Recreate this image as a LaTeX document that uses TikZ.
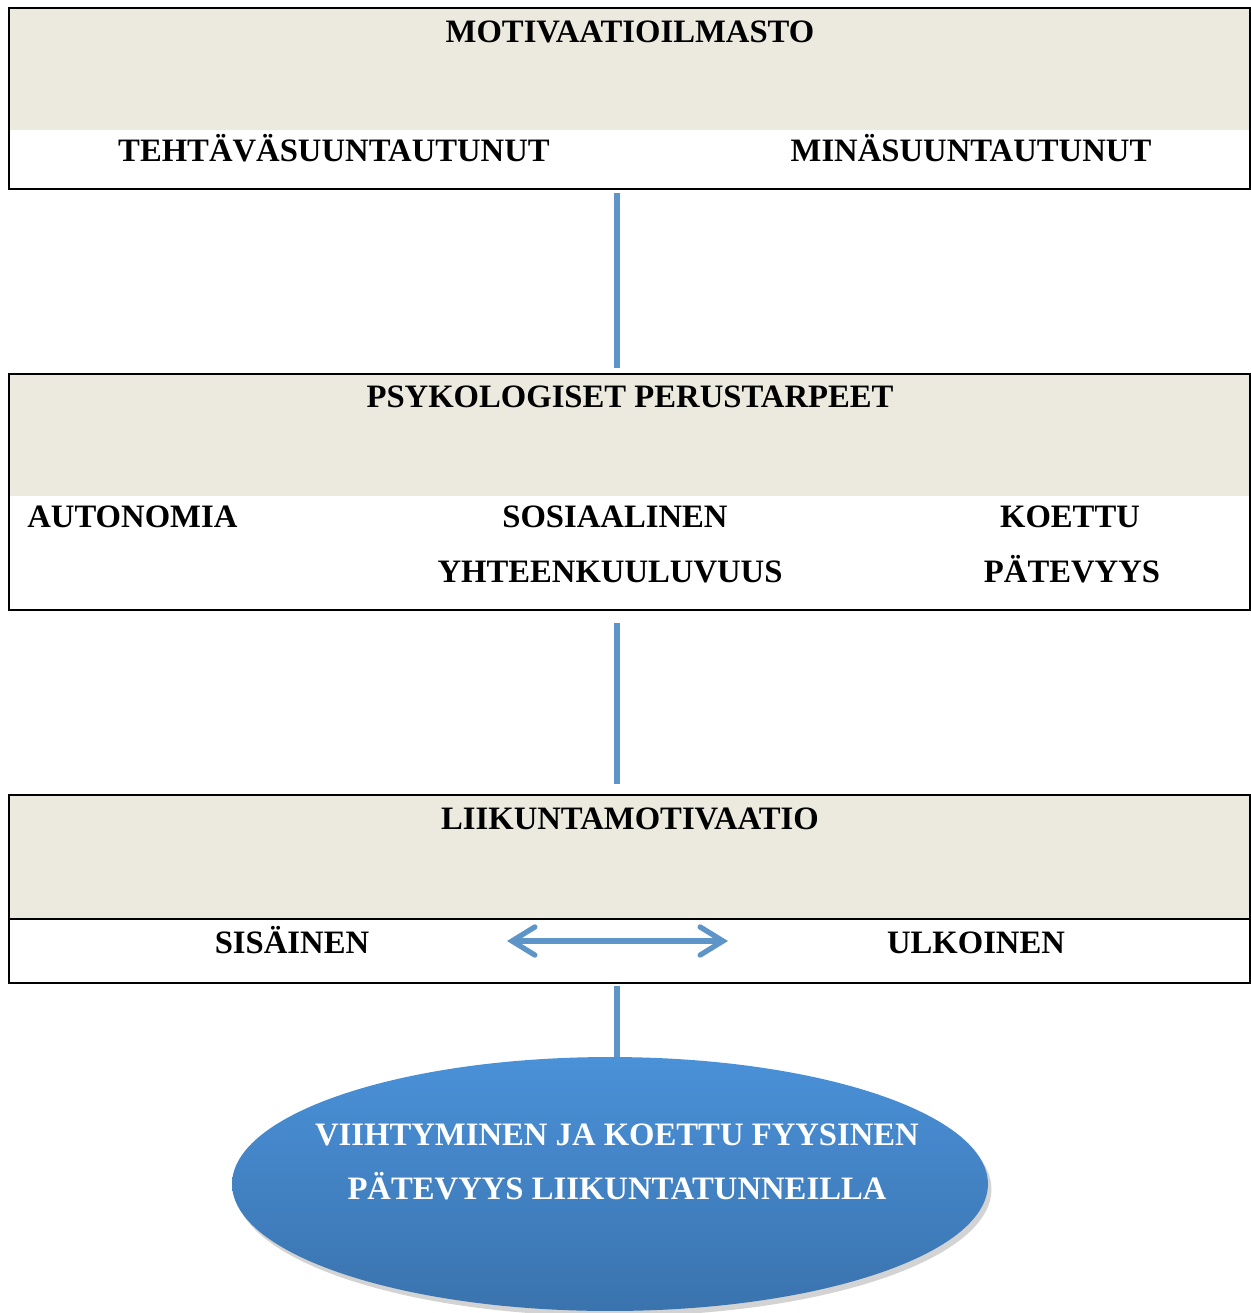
\documentclass[tikz,border=0pt]{standalone}
\usepackage{fontspec}
\setmainfont{Liberation Serif}
\usepackage{xcolor}
\definecolor{bandBeige}{HTML}{ECEADF}
\definecolor{linkBlue}{HTML}{5E95C9}
\definecolor{ellTop}{HTML}{4A91D8}
\definecolor{ellBottom}{HTML}{3A73AE}
\usetikzlibrary{shapes.geometric, shadows, arrows.meta, positioning, calc}

\begin{document}
\begin{tikzpicture}[
    x=0.02cm, y=-0.02cm,
    font=\bfseries\fontsize{18.6}{22}\selectfont,
    boxFrame/.style={draw=black, line width=1.1pt, minimum width=24.82cm, inner sep=0pt},
    txtNode/.style={anchor=base, inner sep=0pt},
    linkLine/.style={draw=linkBlue, line width=3pt},
    biArrow/.style={draw=linkBlue, line width=3pt, {Straight Barb[length=13pt, width=16pt, line cap=round]}-{Straight Barb[length=13pt, width=16pt, line cap=round]}},
    goalNode/.style={ellipse, minimum width=15.12cm, minimum height=5.08cm, shading=axis, top color=ellTop, bottom color=ellBottom, drop shadow={opacity=0.35, shadow xshift=2pt, shadow yshift=-3pt}}
]
\useasboundingbox (0,0) rectangle (1251,1313);

% Box 1: motivaatioilmasto
\fill[bandBeige] (9,8) rectangle (1250,130);
\node[boxFrame, minimum height=3.62cm] (mot) at (629.5,98.5) {};
\node[txtNode] (motT) at (630,42) {MOTIVAATIOILMASTO};
\node[txtNode] (teh) at (334,161) {TEHTÄVÄSUUNTAUTUNUT};
\node[txtNode] (min) at (971,161) {MINÄSUUNTAUTUNUT};

% Box 2: psykologiset perustarpeet
\fill[bandBeige] (9,374) rectangle (1250,496);
\node[boxFrame, minimum height=4.72cm] (psy) at (629.5,492) {};
\node[txtNode] (psyT) at (630,407) {PSYKOLOGISET PERUSTARPEET};
\node[txtNode, anchor=base west] (aut) at (27,527) {AUTONOMIA};
\node[txtNode] (sos) at (615,527) {SOSIAALINEN};
\node[txtNode] (yht) at (610,582) {YHTEENKUULUVUUS};
\node[txtNode] (koe) at (1070,527) {KOETTU};
\node[txtNode] (pat) at (1072,582) {PÄTEVYYS};

% Box 3: liikuntamotivaatio
\fill[bandBeige] (9,795) rectangle (1250,919);
\draw[line width=1.1pt] (9,919) -- (1250,919);
\node[boxFrame, minimum height=3.76cm] (lik) at (629.5,889) {};
\node[txtNode] (likT) at (630,829) {LIIKUNTAMOTIVAATIO};
\node[txtNode] (sis) at (292,953) {SISÄINEN};
\node[txtNode] (ulk) at (976,953) {ULKOINEN};
\coordinate (arrL) at (507,941);
\coordinate (arrR) at (728,941);
\draw[biArrow] (arrL) -- (arrR);

% Goal ellipse
\node[goalNode] (goal) at (610,1184) {};
\node[txtNode, text=white] (goalA) at (617,1145) {VIIHTYMINEN JA KOETTU FYYSINEN};
\node[txtNode, text=white] (goalB) at (617,1199) {PÄTEVYYS LIIKUNTATUNNEILLA};

% Connectors
\coordinate (axis) at (617,0);
\draw[linkLine, shorten <=2pt, shorten >=3pt] (mot.south -| axis) -- (psy.north -| axis);
\draw[linkLine, shorten <=7pt, shorten >=6pt] (psy.south -| axis) -- (lik.north -| axis);
\draw[linkLine, shorten <=1pt] (lik.south -| axis) -- (goal.north -| axis);
\end{tikzpicture}
\end{document}
